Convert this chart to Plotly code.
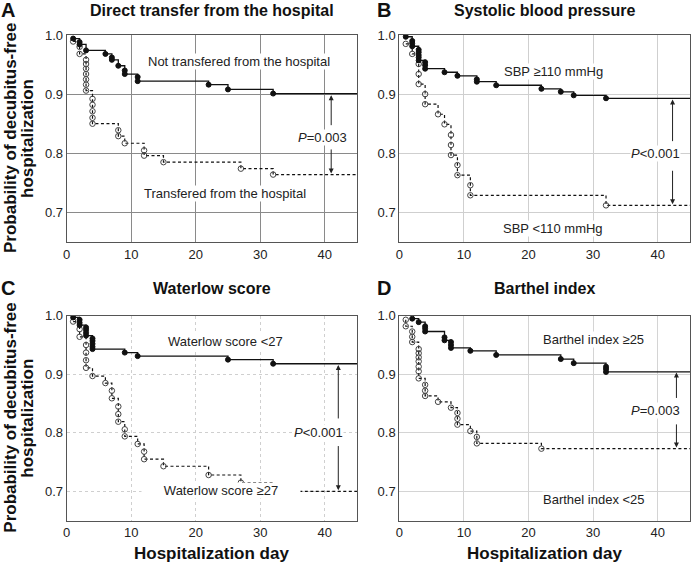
import plotly.graph_objects as go

# ---- data (day, survival probability) ----
# A: direct transfer from the hospital
a_not_days = [1, 2, 2, 3, 6, 7, 7, 8, 9, 9, 11, 11, 22, 25, 32]
a_not_surv = [0.994, 0.988, 0.984, 0.974, 0.968, 0.962, 0.958, 0.948, 0.940, 0.934,
              0.929, 0.922, 0.916, 0.908, 0.901]
a_tr_days = [1, 2, 2, 3, 3, 3, 3, 3, 3, 3, 4, 4, 4, 4, 4, 8, 8, 9, 12, 12, 15, 27, 32]
a_tr_surv = [0.989, 0.980, 0.968, 0.958, 0.951, 0.943, 0.934, 0.925, 0.916, 0.906,
             0.892, 0.882, 0.871, 0.860, 0.850, 0.839, 0.829, 0.817, 0.805, 0.796,
             0.785, 0.774, 0.764]

# B: systolic blood pressure
b_hi_days = [1, 2, 2, 2, 3, 3, 3, 3, 3, 4, 4, 4, 7, 9, 12, 12, 15, 22, 25, 27, 32]
b_hi_surv = [0.997, 0.990, 0.986, 0.981, 0.975, 0.971, 0.966, 0.962, 0.957, 0.954,
             0.949, 0.943, 0.937, 0.931, 0.925, 0.921, 0.915, 0.909, 0.904, 0.898, 0.893]
b_lo_days = [1, 2, 3, 3, 3, 4, 4, 6, 7, 8, 8, 8, 9, 9, 11, 11, 32]
b_lo_surv = [0.985, 0.968, 0.951, 0.934, 0.917, 0.900, 0.883, 0.866, 0.849, 0.831,
             0.814, 0.797, 0.780, 0.763, 0.746, 0.729, 0.712]

# C: Waterlow score
c_lo_days = [1, 2, 2, 2, 3, 3, 3, 3, 4, 4, 4, 4, 4, 9, 11, 25, 32]
c_lo_surv = [0.997, 0.993, 0.988, 0.984, 0.980, 0.976, 0.971, 0.966, 0.961, 0.957,
             0.952, 0.947, 0.943, 0.937, 0.931, 0.925, 0.918]
c_hi_days = [1, 2, 2, 3, 3, 3, 3, 4, 6, 7, 7, 8, 8, 8, 9, 9, 11, 12, 12, 15, 22, 27, 32]
c_hi_surv = [0.990, 0.977, 0.964, 0.950, 0.937, 0.924, 0.911, 0.897, 0.885, 0.872,
             0.859, 0.845, 0.832, 0.819, 0.806, 0.794, 0.781, 0.768, 0.755, 0.743,
             0.728, 0.715, 0.700]

# D: Barthel index
d_hi_days = [2, 3, 4, 4, 4, 7, 7, 8, 8, 8, 11, 15, 25, 27, 32, 32, 32]
d_hi_surv = [0.995, 0.989, 0.982, 0.978, 0.973, 0.963, 0.958, 0.955, 0.950, 0.945,
             0.940, 0.933, 0.926, 0.919, 0.913, 0.909, 0.904]
d_lo_days = [1, 1, 2, 2, 2, 3, 3, 3, 3, 3, 3, 3, 4, 4, 4, 6, 8, 9, 9, 9, 11, 12, 12, 22]
d_lo_surv = [0.993, 0.982, 0.973, 0.964, 0.955, 0.943, 0.936, 0.929, 0.922, 0.913,
             0.905, 0.893, 0.882, 0.872, 0.863, 0.853, 0.843, 0.834, 0.824, 0.814,
             0.803, 0.793, 0.782, 0.773]

titles = ["Direct transfer from the hospital", "Systolic blood pressure",
          "Waterlow score", "Barthel index"]
letters = ["A", "B", "C", "D"]
y_ticks = [0.7, 0.8, 0.9, 1.0]
x_max = 45

W, H = 691, 562
FONT = "Liberation Sans, Arial, sans-serif"


def px(x):
    return x / W


def py(y):
    return 1 - y / H


# panel boxes in pixels: left, right, top, bottom
boxes = [(66.7, 357, 35, 242), (399.3, 690, 35, 242),
         (66.7, 357, 315.7, 520.7), (399.3, 690, 315.7, 520.7)]
grid_colors = ["#8a8a8a", "#cfcfcf", "#cfcfcf", "#d4d4d4"]
grid_dash = ["solid", "solid", "dot", "solid"]

fig = go.Figure()


def add_curve(i, days, surv, solid):
    xa = "x" if i == 0 else "x%d" % (i + 1)
    ya = "y" if i == 0 else "y%d" % (i + 1)
    fig.add_trace(go.Scatter(
        x=days + [x_max], y=surv + [surv[-1]], mode="lines", line_shape="hv",
        line=dict(color="#111", width=1.3 if solid else 1.2,
                  dash="solid" if solid else "3px,2.5px"),
        xaxis=xa, yaxis=ya, showlegend=False, hoverinfo="skip"))
    fig.add_trace(go.Scatter(
        x=days, y=surv, mode="markers",
        marker=dict(symbol="circle" if solid else "circle-open", size=5 if solid else 5.5,
                    color="#111" if solid else "#444", line=dict(width=1, color="#111" if solid else "#444")),
        xaxis=xa, yaxis=ya, showlegend=False))


curves = [(a_not_days, a_not_surv, a_tr_days, a_tr_surv),
          (b_hi_days, b_hi_surv, b_lo_days, b_lo_surv),
          (c_lo_days, c_lo_surv, c_hi_days, c_hi_surv),
          (d_hi_days, d_hi_surv, d_lo_days, d_lo_surv)]
for i, (sd, ss, dd, ds) in enumerate(curves):
    add_curve(i, dd, ds, False)
    add_curve(i, sd, ss, True)

layout = dict(width=W, height=H,
              margin=dict(l=0, r=0, t=0, b=0, pad=0, autoexpand=False),
              paper_bgcolor="white", plot_bgcolor="white",
              font=dict(family=FONT, size=13, color="#222"))
annotations = []


def paper_text(text, x, y, size, angle=0):
    annotations.append(dict(text=text, x=px(x), y=py(y), xref="paper", yref="paper",
                            xanchor="center", yanchor="middle", showarrow=False,
                            textangle=angle, font=dict(size=size, color="#111")))


for i, (l, r, t, b) in enumerate(boxes):
    suffix = "" if i == 0 else str(i + 1)
    layout["xaxis" + suffix] = dict(
        domain=[px(l), px(r)], range=[0, x_max], anchor="y" + suffix,
        tickvals=[0, 10, 20, 30, 40], showgrid=True, gridcolor=grid_colors[i],
        griddash=grid_dash[i], gridwidth=1, zeroline=False, showline=True,
        linecolor="#555", linewidth=1, mirror=True, ticks="", automargin=False,
        tickfont=dict(size=13, color="#222"))
    layout["yaxis" + suffix] = dict(
        domain=[py(b), py(t)], range=[0.65, 1.0], anchor="x" + suffix,
        tickvals=y_ticks, tickformat=".1f", showgrid=True, gridcolor=grid_colors[i],
        griddash=grid_dash[i], gridwidth=1, zeroline=False, showline=True,
        linecolor="#555", linewidth=1, mirror=True, ticks="", automargin=False,
        tickfont=dict(size=13, color="#222"))
    cx = (l + r) / 2
    ty = 10 if i < 2 else 288
    paper_text("<b>%s</b>" % titles[i], cx, ty, 16)
    paper_text("<b>%s</b>" % letters[i], 7.5 if i % 2 == 0 else 383.7, ty, 20)
    if i % 2 == 0:
        cy = (t + b) / 2
        paper_text("<b>Probability of decubitus-free</b>", 10.5, cy, 17, -90)
        paper_text("<b>hospitalization</b>", 27.5, cy, 17, -90)
    if i >= 2:
        paper_text("<b>Hospitalization day</b>", cx, 553, 17)

# curve labels: (panel, text, x, y, width)
labels = [
    (0, "Not transfered from the hospital", 26.7, 0.956, None),
    (0, "Transfered from the hospital", 24.6, 0.732, None),
    (1, "SBP \u2265110 mmHg", 23.8, 0.939, None),
    (1, "SBP <110 mmHg", 23.8, 0.672, None),
    (2, "Waterlow score <27", 24.6, 0.956, None),
    (2, "Waterlow score \u226527", 23.9, 0.701, 158),
    (3, "Barthel index \u226525", 30.1, 0.959, None),
    (3, "Barthel index <25", 30.1, 0.687, None),
]
for p, txt, x, y, w in labels:
    suffix = "" if p == 0 else str(p + 1)
    a = dict(text=txt, x=x, y=y, xref="x" + suffix, yref="y" + suffix,
             showarrow=False, bgcolor="white", borderpad=0,
             font=dict(size=13, color="#222"))
    if w:
        a["width"] = w
    annotations.append(a)

# p-values: (panel, text, text x, text y, arrow x, up head, up tail, down tail, down head)
pvals = [
    (0, "<i>P</i>=0.003", 39.7, 0.827, 41.0, 0.898, 0.845, 0.809, 0.766),
    (1, "<i>P</i><0.001", 39.6, 0.800, 42.3, 0.891, 0.818, 0.773, 0.714),
    (2, "<i>P</i><0.001", 39.0, 0.800, 42.1, 0.916, 0.822, 0.780, 0.702),
    (3, "<i>P</i>=0.003", 39.7, 0.838, 42.9, 0.903, 0.857, 0.817, 0.775),
]
for p, txt, tx, ty_, ax_, uh, ut, dt, dh in pvals:
    suffix = "" if p == 0 else str(p + 1)
    annotations.append(dict(text=txt, x=tx, y=ty_, xref="x" + suffix, yref="y" + suffix,
                            showarrow=False, bgcolor="white", borderpad=0,
                            font=dict(size=13, color="#222")))
    for head, tail in [(uh, ut), (dh, dt)]:
        annotations.append(dict(text="", x=ax_, y=head, ax=ax_, ay=tail,
                                xref="x" + suffix, yref="y" + suffix,
                                axref="x" + suffix, ayref="y" + suffix,
                                showarrow=True, arrowhead=2, arrowsize=1,
                                arrowwidth=1, arrowcolor="#222", standoff=0))

layout["annotations"] = annotations
fig.update_layout(**layout)
# the page body has a default 8px margin; drop it so the figure fills the window
fig.write_html("out.html", config={"displayModeBar": False},
               post_script="document.body.style.margin='0';")
